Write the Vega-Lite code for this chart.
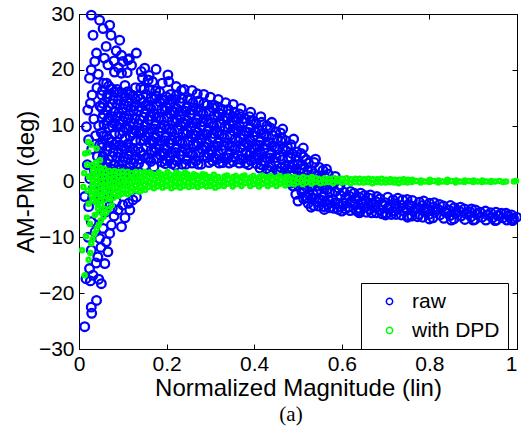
{
"$schema":"https://vega.github.io/schema/vega-lite/v6.json",
"width":438,"height":335,"autosize":"none",
"padding":{"left":79,"top":14,"right":4,"bottom":78},
"background":"white",
"config":{"view":{"stroke":"black","strokeWidth":1},"font":"Liberation Sans",
"legend":{"strokeColor":"black","fillColor":"white","padding":8,"labelFontSize":21,"labelFont":"Liberation Sans","labelColor":"black","rowPadding":7,"labelOffset":12,"symbolOffset":10,"symbolSize":40,"cornerRadius":0}},
"title":{"text":"(a)","orient":"bottom","font":"Liberation Serif","fontSize":21,"fontWeight":"normal","color":"black","offset":4,"dx":-7},
"datasets":{
"raw":[
{"x":0.028,"y":29.8},{"x":0.047,"y":28.9},{"x":0.032,"y":26.2},{"x":0.040,"y":23.0},{"x":0.028,"y":20.0},{"x":0.024,"y":18.5},{"x":0.036,"y":21.5},{"x":0.044,"y":19.2},{"x":0.020,"y":12.8},{"x":0.017,"y":9.8},{"x":0.030,"y":15.5},{"x":0.041,"y":16.8},{"x":0.026,"y":14.0},{"x":0.048,"y":13.5},{"x":0.034,"y":11.2},{"x":0.022,"y":7.5},{"x":0.045,"y":10.0},{"x":0.038,"y":8.2},{"x":0.029,"y":5.8},{"x":0.042,"y":4.5},{"x":0.019,"y":3.0},{"x":0.035,"y":2.0},{"x":0.025,"y":0.5},{"x":0.047,"y":6.5},{"x":0.013,"y":-2.7},{"x":0.022,"y":-4.5},{"x":0.031,"y":-3.0},{"x":0.043,"y":-6.3},{"x":0.028,"y":-7.2},{"x":0.037,"y":-9.0},{"x":0.047,"y":-10.2},{"x":0.028,"y":-12.3},{"x":0.043,"y":-13.5},{"x":0.024,"y":-15.6},{"x":0.016,"y":-17.4},{"x":0.032,"y":-16.8},{"x":0.026,"y":-17.8},{"x":0.028,"y":-22.5},{"x":0.040,"y":-21.3},{"x":0.029,"y":-23.6},{"x":0.013,"y":-26.0},{"x":0.050,"y":-11.8},{"x":0.039,"y":-14.6},{"x":0.045,"y":-17.5},{"x":0.021,"y":-10.0},{"x":0.033,"y":-1.2},
{"x":0.055,"y":27.4},{"x":0.070,"y":28.0},{"x":0.073,"y":26.2},{"x":0.093,"y":25.3},{"x":0.062,"y":24.2},{"x":0.080,"y":21.6},{"x":0.085,"y":23.4},{"x":0.058,"y":22.1},{"x":0.097,"y":22.6},{"x":0.066,"y":20.9},{"x":0.090,"y":20.4},{"x":0.081,"y":19.6},{"x":0.112,"y":21.8},{"x":0.097,"y":19.4},{"x":0.142,"y":19.7},{"x":0.158,"y":18.2},{"x":0.203,"y":19.1},
{"x":0.059,"y":-14.7},{"x":0.066,"y":-12.6},{"x":0.070,"y":-9.3},{"x":0.097,"y":-8.1},{"x":0.074,"y":-7.8},{"x":0.051,"y":-18.3},{"x":0.089,"y":-5.1},{"x":0.116,"y":-5.1},{"x":0.123,"y":-3.3},{"x":0.062,"y":-10.8},{"x":0.080,"y":-6.2},{"x":0.055,"y":-8.4},{"x":0.105,"y":-6.5},{"x":0.131,"y":-2.8},{"x":0.113,"y":-3.9},{"x":0.085,"y":-3.6},{"x":0.076,"y":-4.8},{"x":0.100,"y":-4.2},{"x":0.060,"y":-5.5},{"x":0.052,"y":-4.0},{"x":0.068,"y":-3.0},
{"x":0.131,"y":23.0},{"x":0.176,"y":20.1},{"x":0.110,"y":19.5},{"x":0.120,"y":20.8},{"x":0.145,"y":18.6},{"x":0.160,"y":19.0},{"x":0.190,"y":17.6},{"x":0.205,"y":17.9},{"x":0.222,"y":17.0},{"x":0.240,"y":16.5},{"x":0.258,"y":16.3},{"x":0.270,"y":15.7},{"x":0.285,"y":15.6},{"x":0.300,"y":15.1},{"x":0.318,"y":14.7},{"x":0.335,"y":14.1},{"x":0.352,"y":13.8},{"x":0.370,"y":13.1},{"x":0.392,"y":12.4},{"x":0.415,"y":11.6},{"x":0.440,"y":10.6},{"x":0.465,"y":9.4},{"x":0.490,"y":7.6},{"x":0.512,"y":6.0},{"x":0.540,"y":4.0},{"x":0.565,"y":2.2},{"x":0.585,"y":0.9},{"x":0.100,"y":21.5},{"x":0.150,"y":20.3},{"x":0.115,"y":22.0},{"x":0.168,"y":17.9},{"x":0.234,"y":16.3},
{"x":0.500,"y":-3.5},{"x":0.530,"y":-4.6},{"x":0.560,"y":-5.0},{"x":0.600,"y":-5.3},{"x":0.640,"y":-5.6},{"x":0.700,"y":-6.0},{"x":0.750,"y":-6.4},{"x":0.800,"y":-6.7},{"x":0.850,"y":-6.9},{"x":0.900,"y":-6.9},{"x":0.950,"y":-7.0},{"x":0.990,"y":-7.0},
{"x":0.056,"y":-1.3},{"x":0.051,"y":-0.8},{"x":0.057,"y":0.7},{"x":0.053,"y":2.0},{"x":0.056,"y":2.5},{"x":0.052,"y":3.8},{"x":0.055,"y":4.5},{"x":0.052,"y":6.1},{"x":0.054,"y":6.8},{"x":0.056,"y":8.2},{"x":0.051,"y":8.7},{"x":0.057,"y":10.2},{"x":0.053,"y":11.4},{"x":0.056,"y":12.0},{"x":0.052,"y":13.2},{"x":0.055,"y":14.0},{"x":0.052,"y":15.5},{"x":0.054,"y":16.3},{"x":0.056,"y":17.6},
{"x":0.063,"y":-1.3},{"x":0.069,"y":0.2},{"x":0.065,"y":1.4},{"x":0.068,"y":2.0},{"x":0.064,"y":3.2},{"x":0.067,"y":4.0},{"x":0.064,"y":5.5},{"x":0.066,"y":6.3},{"x":0.068,"y":7.6},{"x":0.063,"y":8.2},{"x":0.069,"y":9.6},{"x":0.065,"y":10.9},{"x":0.068,"y":11.4},{"x":0.064,"y":12.7},{"x":0.067,"y":13.4},{"x":0.064,"y":15.0},{"x":0.066,"y":15.7},{"x":0.068,"y":17.1},{"x":0.063,"y":17.6},
{"x":0.081,"y":-0.9},{"x":0.077,"y":0.4},{"x":0.080,"y":0.9},{"x":0.076,"y":2.2},{"x":0.079,"y":2.9},{"x":0.076,"y":4.5},{"x":0.078,"y":5.2},{"x":0.080,"y":6.6},{"x":0.075,"y":7.1},{"x":0.081,"y":8.6},{"x":0.077,"y":9.8},{"x":0.080,"y":10.4},{"x":0.076,"y":11.6},{"x":0.079,"y":12.4},{"x":0.076,"y":13.9},{"x":0.078,"y":14.7},{"x":0.080,"y":16.0},{"x":0.075,"y":16.6},
{"x":0.089,"y":0.3},{"x":0.092,"y":0.9},{"x":0.088,"y":2.1},{"x":0.091,"y":2.9},{"x":0.088,"y":4.4},{"x":0.090,"y":5.2},{"x":0.092,"y":6.5},{"x":0.087,"y":7.1},{"x":0.093,"y":8.5},{"x":0.089,"y":9.8},{"x":0.092,"y":10.3},{"x":0.088,"y":11.6},{"x":0.091,"y":12.3},{"x":0.088,"y":13.9},{"x":0.090,"y":14.6},{"x":0.092,"y":16.0},{"x":0.087,"y":16.5},
{"x":0.104,"y":0.1},{"x":0.100,"y":1.4},{"x":0.103,"y":2.1},{"x":0.100,"y":3.7},{"x":0.102,"y":4.4},{"x":0.104,"y":5.8},{"x":0.099,"y":6.3},{"x":0.105,"y":7.8},{"x":0.101,"y":9.0},{"x":0.104,"y":9.6},{"x":0.100,"y":10.8},{"x":0.103,"y":11.6},{"x":0.100,"y":13.1},{"x":0.102,"y":13.9},{"x":0.104,"y":15.2},{"x":0.099,"y":15.8},{"x":0.105,"y":17.2},
{"x":0.112,"y":1.7},{"x":0.115,"y":2.5},{"x":0.112,"y":4.0},{"x":0.114,"y":4.8},{"x":0.116,"y":6.1},{"x":0.111,"y":6.7},{"x":0.117,"y":8.1},{"x":0.113,"y":9.4},{"x":0.116,"y":9.9},{"x":0.112,"y":11.2},{"x":0.115,"y":11.9},{"x":0.112,"y":13.5},{"x":0.114,"y":14.2},{"x":0.116,"y":15.6},{"x":0.111,"y":16.1},
{"x":0.127,"y":1.7},{"x":0.124,"y":3.3},{"x":0.126,"y":4.0},{"x":0.128,"y":5.4},{"x":0.123,"y":5.9},{"x":0.129,"y":7.4},{"x":0.125,"y":8.6},{"x":0.128,"y":9.2},{"x":0.124,"y":10.4},{"x":0.127,"y":11.2},{"x":0.124,"y":12.7},{"x":0.126,"y":13.5},{"x":0.128,"y":14.8},{"x":0.123,"y":15.4},{"x":0.129,"y":16.8},
{"x":0.136,"y":3.2},{"x":0.138,"y":4.0},{"x":0.140,"y":5.3},{"x":0.135,"y":5.9},{"x":0.141,"y":7.3},{"x":0.137,"y":8.6},{"x":0.140,"y":9.1},{"x":0.136,"y":10.4},{"x":0.139,"y":11.1},{"x":0.136,"y":12.7},{"x":0.138,"y":13.4},{"x":0.140,"y":14.8},{"x":0.135,"y":15.3},{"x":0.141,"y":16.8},
{"x":0.150,"y":2.8},{"x":0.152,"y":4.2},{"x":0.147,"y":4.7},{"x":0.153,"y":6.2},{"x":0.149,"y":7.4},{"x":0.152,"y":8.0},{"x":0.148,"y":9.2},{"x":0.151,"y":10.0},{"x":0.148,"y":11.5},{"x":0.150,"y":12.3},{"x":0.152,"y":13.6},{"x":0.147,"y":14.2},{"x":0.153,"y":15.6},{"x":0.149,"y":16.6},
{"x":0.164,"y":3.6},{"x":0.159,"y":4.2},{"x":0.165,"y":5.6},{"x":0.161,"y":6.9},{"x":0.164,"y":7.4},{"x":0.160,"y":8.7},{"x":0.163,"y":9.4},{"x":0.160,"y":11.0},{"x":0.162,"y":11.7},{"x":0.164,"y":13.1},{"x":0.159,"y":13.6},{"x":0.165,"y":15.1},{"x":0.161,"y":16.3},
{"x":0.171,"y":2.6},{"x":0.177,"y":4.1},{"x":0.173,"y":5.3},{"x":0.176,"y":5.9},{"x":0.172,"y":7.1},{"x":0.175,"y":7.9},{"x":0.172,"y":9.4},{"x":0.174,"y":10.2},{"x":0.176,"y":11.5},{"x":0.171,"y":12.1},{"x":0.177,"y":13.5},{"x":0.173,"y":14.8},{"x":0.176,"y":15.3},{"x":0.175,"y":16.2},
{"x":0.189,"y":3.5},{"x":0.185,"y":4.8},{"x":0.188,"y":5.3},{"x":0.184,"y":6.6},{"x":0.187,"y":7.3},{"x":0.184,"y":8.9},{"x":0.186,"y":9.6},{"x":0.188,"y":11.0},{"x":0.183,"y":11.5},{"x":0.189,"y":13.0},{"x":0.185,"y":14.2},{"x":0.188,"y":14.8},{"x":0.184,"y":16.0},
{"x":0.197,"y":3.2},{"x":0.200,"y":3.8},{"x":0.196,"y":5.0},{"x":0.199,"y":5.8},{"x":0.196,"y":7.3},{"x":0.198,"y":8.1},{"x":0.200,"y":9.4},{"x":0.195,"y":10.0},{"x":0.201,"y":11.4},{"x":0.197,"y":12.7},{"x":0.200,"y":13.2},{"x":0.196,"y":14.5},{"x":0.199,"y":15.2},
{"x":0.212,"y":3.2},{"x":0.208,"y":4.5},{"x":0.211,"y":5.2},{"x":0.208,"y":6.8},{"x":0.210,"y":7.5},{"x":0.212,"y":8.9},{"x":0.207,"y":9.4},{"x":0.213,"y":10.9},{"x":0.209,"y":12.1},{"x":0.212,"y":12.7},{"x":0.208,"y":13.9},{"x":0.211,"y":14.7},{"x":0.209,"y":15.6},
{"x":0.220,"y":2.9},{"x":0.223,"y":3.7},{"x":0.220,"y":5.2},{"x":0.222,"y":6.0},{"x":0.224,"y":7.3},{"x":0.219,"y":7.9},{"x":0.225,"y":9.3},{"x":0.221,"y":10.6},{"x":0.224,"y":11.1},{"x":0.220,"y":12.4},{"x":0.223,"y":13.1},{"x":0.220,"y":14.7},{"x":0.222,"y":15.4},
{"x":0.235,"y":3.1},{"x":0.232,"y":4.7},{"x":0.234,"y":5.4},{"x":0.236,"y":6.8},{"x":0.231,"y":7.3},{"x":0.237,"y":8.8},{"x":0.233,"y":10.0},{"x":0.236,"y":10.6},{"x":0.232,"y":11.8},{"x":0.235,"y":12.6},{"x":0.232,"y":14.1},{"x":0.234,"y":14.9},
{"x":0.244,"y":3.1},{"x":0.246,"y":3.9},{"x":0.248,"y":5.2},{"x":0.243,"y":5.8},{"x":0.249,"y":7.2},{"x":0.245,"y":8.5},{"x":0.248,"y":9.0},{"x":0.244,"y":10.3},{"x":0.247,"y":11.0},{"x":0.244,"y":12.6},{"x":0.246,"y":13.3},{"x":0.248,"y":14.7},
{"x":0.258,"y":3.3},{"x":0.260,"y":4.7},{"x":0.255,"y":5.2},{"x":0.261,"y":6.7},{"x":0.257,"y":7.9},{"x":0.260,"y":8.5},{"x":0.256,"y":9.7},{"x":0.259,"y":10.5},{"x":0.256,"y":12.0},{"x":0.258,"y":12.8},{"x":0.260,"y":14.1},{"x":0.255,"y":14.7},
{"x":0.272,"y":3.1},{"x":0.267,"y":3.7},{"x":0.273,"y":5.1},{"x":0.269,"y":6.4},{"x":0.272,"y":6.9},{"x":0.268,"y":8.2},{"x":0.271,"y":8.9},{"x":0.268,"y":10.5},{"x":0.270,"y":11.2},{"x":0.272,"y":12.6},{"x":0.267,"y":13.1},{"x":0.273,"y":14.4},
{"x":0.279,"y":3.1},{"x":0.285,"y":4.6},{"x":0.281,"y":5.8},{"x":0.284,"y":6.4},{"x":0.280,"y":7.6},{"x":0.283,"y":8.4},{"x":0.280,"y":9.9},{"x":0.282,"y":10.7},{"x":0.284,"y":12.0},{"x":0.279,"y":12.6},{"x":0.285,"y":14.0},
{"x":0.297,"y":3.4},{"x":0.293,"y":4.3},{"x":0.296,"y":5.0},{"x":0.292,"y":6.1},{"x":0.295,"y":6.8},{"x":0.292,"y":8.4},{"x":0.294,"y":9.1},{"x":0.296,"y":10.5},{"x":0.291,"y":11.0},{"x":0.297,"y":12.5},{"x":0.293,"y":13.7},
{"x":0.305,"y":3.7},{"x":0.308,"y":4.3},{"x":0.304,"y":5.5},{"x":0.307,"y":6.3},{"x":0.304,"y":7.8},{"x":0.306,"y":8.6},{"x":0.308,"y":9.9},{"x":0.303,"y":10.5},{"x":0.309,"y":11.9},{"x":0.305,"y":13.2},{"x":0.308,"y":13.7},
{"x":0.320,"y":3.3},{"x":0.316,"y":4.0},{"x":0.319,"y":4.9},{"x":0.316,"y":6.3},{"x":0.318,"y":7.0},{"x":0.320,"y":8.4},{"x":0.315,"y":8.9},{"x":0.321,"y":10.4},{"x":0.317,"y":11.6},{"x":0.320,"y":12.2},{"x":0.316,"y":13.4},
{"x":0.328,"y":3.4},{"x":0.331,"y":4.2},{"x":0.328,"y":5.7},{"x":0.330,"y":6.5},{"x":0.332,"y":7.8},{"x":0.327,"y":8.4},{"x":0.333,"y":9.8},{"x":0.329,"y":11.1},{"x":0.332,"y":11.6},{"x":0.328,"y":12.9},
{"x":0.343,"y":3.3},{"x":0.340,"y":4.2},{"x":0.342,"y":4.9},{"x":0.344,"y":6.3},{"x":0.339,"y":6.8},{"x":0.345,"y":8.3},{"x":0.341,"y":9.5},{"x":0.344,"y":10.1},{"x":0.340,"y":11.3},{"x":0.343,"y":12.1},{"x":0.341,"y":12.9},
{"x":0.352,"y":3.6},{"x":0.354,"y":4.4},{"x":0.356,"y":5.7},{"x":0.351,"y":6.3},{"x":0.357,"y":7.7},{"x":0.353,"y":9.0},{"x":0.356,"y":9.5},{"x":0.352,"y":10.8},{"x":0.355,"y":11.5},{"x":0.355,"y":12.4},
{"x":0.366,"y":3.3},{"x":0.368,"y":4.0},{"x":0.363,"y":4.7},{"x":0.369,"y":6.0},{"x":0.365,"y":7.2},{"x":0.368,"y":7.8},{"x":0.364,"y":9.0},{"x":0.367,"y":9.8},{"x":0.364,"y":11.3},{"x":0.366,"y":12.1},
{"x":0.380,"y":3.3},{"x":0.375,"y":4.1},{"x":0.381,"y":5.2},{"x":0.377,"y":6.5},{"x":0.380,"y":7.0},{"x":0.376,"y":8.3},{"x":0.379,"y":9.0},{"x":0.376,"y":10.6},{"x":0.378,"y":11.3},
{"x":0.387,"y":3.0},{"x":0.393,"y":3.7},{"x":0.389,"y":4.7},{"x":0.392,"y":5.3},{"x":0.388,"y":6.5},{"x":0.391,"y":7.3},{"x":0.388,"y":8.8},{"x":0.390,"y":9.6},{"x":0.392,"y":10.9},{"x":0.389,"y":11.6},
{"x":0.405,"y":3.2},{"x":0.401,"y":4.1},{"x":0.404,"y":4.8},{"x":0.400,"y":5.9},{"x":0.403,"y":6.6},{"x":0.400,"y":8.2},{"x":0.402,"y":8.9},{"x":0.404,"y":10.3},{"x":0.399,"y":10.8},
{"x":0.413,"y":2.4},{"x":0.416,"y":3.0},{"x":0.412,"y":4.2},{"x":0.415,"y":5.0},{"x":0.412,"y":6.5},{"x":0.414,"y":7.3},{"x":0.416,"y":8.6},{"x":0.411,"y":9.2},{"x":0.417,"y":10.6},
{"x":0.428,"y":2.3},{"x":0.424,"y":3.6},{"x":0.427,"y":4.3},{"x":0.424,"y":5.9},{"x":0.426,"y":6.6},{"x":0.428,"y":8.0},{"x":0.423,"y":8.5},{"x":0.429,"y":10.0},
{"x":0.436,"y":1.9},{"x":0.439,"y":2.7},{"x":0.436,"y":4.2},{"x":0.438,"y":5.0},{"x":0.440,"y":6.3},{"x":0.435,"y":6.9},{"x":0.441,"y":8.3},{"x":0.437,"y":9.6},
{"x":0.451,"y":2.0},{"x":0.448,"y":3.6},{"x":0.450,"y":4.3},{"x":0.452,"y":5.7},{"x":0.447,"y":6.2},{"x":0.453,"y":7.7},{"x":0.449,"y":8.9},
{"x":0.460,"y":1.8},{"x":0.462,"y":2.5},{"x":0.464,"y":3.9},{"x":0.459,"y":4.5},{"x":0.465,"y":5.9},{"x":0.461,"y":7.2},{"x":0.464,"y":7.7},{"x":0.460,"y":8.7},
{"x":0.474,"y":0.9},{"x":0.476,"y":2.3},{"x":0.471,"y":2.8},{"x":0.477,"y":4.3},{"x":0.473,"y":5.5},{"x":0.476,"y":6.1},{"x":0.472,"y":7.3},
{"x":0.488,"y":-0.8},{"x":0.483,"y":-0.3},{"x":0.489,"y":1.2},{"x":0.485,"y":2.5},{"x":0.488,"y":3.0},{"x":0.484,"y":4.3},{"x":0.487,"y":5.0},{"x":0.484,"y":6.6},
{"x":0.495,"y":-2.3},{"x":0.501,"y":-0.8},{"x":0.497,"y":0.4},{"x":0.500,"y":1.0},{"x":0.496,"y":2.2},{"x":0.499,"y":3.0},{"x":0.496,"y":4.5},{"x":0.498,"y":5.3},
{"x":0.513,"y":-3.1},{"x":0.509,"y":-1.9},{"x":0.512,"y":-1.3},{"x":0.508,"y":-0.1},{"x":0.511,"y":0.7},{"x":0.508,"y":2.3},{"x":0.510,"y":3.0},{"x":0.512,"y":4.4},{"x":0.507,"y":5.0},
{"x":0.521,"y":-2.9},{"x":0.524,"y":-2.3},{"x":0.520,"y":-1.1},{"x":0.523,"y":-0.3},{"x":0.520,"y":1.2},{"x":0.522,"y":2.0},{"x":0.524,"y":3.3},{"x":0.519,"y":3.9},{"x":0.523,"y":-3.9},
{"x":0.536,"y":-4.3},{"x":0.532,"y":-3.0},{"x":0.535,"y":-2.3},{"x":0.532,"y":-0.8},{"x":0.534,"y":0.0},{"x":0.536,"y":1.4},{"x":0.531,"y":1.9},{"x":0.537,"y":3.4},
{"x":0.544,"y":-3.6},{"x":0.547,"y":-3.1},{"x":0.544,"y":-1.6},{"x":0.546,"y":-0.8},{"x":0.548,"y":0.5},{"x":0.543,"y":1.1},{"x":0.549,"y":2.5},{"x":0.547,"y":-4.4},
{"x":0.559,"y":-4.5},{"x":0.556,"y":-3.4},{"x":0.558,"y":-2.6},{"x":0.560,"y":-1.3},{"x":0.555,"y":-0.7},{"x":0.561,"y":0.8},{"x":0.557,"y":2.0},
{"x":0.568,"y":-4.1},{"x":0.570,"y":-3.3},{"x":0.572,"y":-2.0},{"x":0.567,"y":-1.4},{"x":0.573,"y":0.0},{"x":0.569,"y":1.3},{"x":0.571,"y":-4.7},
{"x":0.582,"y":-4.8},{"x":0.584,"y":-3.8},{"x":0.579,"y":-3.2},{"x":0.585,"y":-1.8},{"x":0.581,"y":-0.5},{"x":0.584,"y":0.1},
{"x":0.596,"y":-4.5},{"x":0.591,"y":-3.9},{"x":0.597,"y":-2.5},{"x":0.593,"y":-1.2},{"x":0.596,"y":-0.7},{"x":0.592,"y":-5.0},
{"x":0.608,"y":-4.9},{"x":0.603,"y":-3.9},{"x":0.609,"y":-2.9},{"x":0.605,"y":-1.9},
{"x":0.615,"y":-4.6},{"x":0.621,"y":-3.6},{"x":0.617,"y":-2.6},{"x":0.620,"y":-1.8},{"x":0.619,"y":-5.2},
{"x":0.633,"y":-5.2},{"x":0.629,"y":-4.1},{"x":0.632,"y":-3.1},{"x":0.628,"y":-2.1},
{"x":0.641,"y":-4.8},{"x":0.644,"y":-3.8},{"x":0.640,"y":-2.8},{"x":0.643,"y":-2.1},{"x":0.642,"y":-5.3},
{"x":0.656,"y":-5.5},{"x":0.652,"y":-4.5},{"x":0.655,"y":-3.5},{"x":0.652,"y":-2.5},
{"x":0.664,"y":-5.0},{"x":0.667,"y":-4.0},{"x":0.663,"y":-3.0},{"x":0.668,"y":-5.6},{"x":0.665,"y":-2.4},
{"x":0.679,"y":-5.6},{"x":0.676,"y":-4.6},{"x":0.678,"y":-3.6},{"x":0.680,"y":-2.7},
{"x":0.688,"y":-5.1},{"x":0.691,"y":-4.1},{"x":0.687,"y":-3.1},{"x":0.692,"y":-5.8},
{"x":0.702,"y":-5.7},{"x":0.704,"y":-4.8},{"x":0.699,"y":-3.8},{"x":0.705,"y":-2.8},
{"x":0.716,"y":-5.3},{"x":0.711,"y":-4.3},{"x":0.717,"y":-3.3},{"x":0.713,"y":-5.9},
{"x":0.724,"y":-5.9},{"x":0.727,"y":-5.0},{"x":0.723,"y":-4.0},{"x":0.728,"y":-3.0},
{"x":0.736,"y":-6.0},{"x":0.740,"y":-5.2},{"x":0.737,"y":-4.3},{"x":0.739,"y":-3.3},
{"x":0.751,"y":-6.1},{"x":0.748,"y":-5.1},{"x":0.752,"y":-4.1},{"x":0.749,"y":-3.2},
{"x":0.760,"y":-6.2},{"x":0.763,"y":-5.3},{"x":0.759,"y":-4.4},{"x":0.761,"y":-3.4},
{"x":0.776,"y":-5.9},{"x":0.772,"y":-4.8},{"x":0.777,"y":-3.7},{"x":0.773,"y":-6.3},
{"x":0.785,"y":-6.4},{"x":0.788,"y":-5.3},{"x":0.784,"y":-4.3},{"x":0.787,"y":-3.5},
{"x":0.799,"y":-5.9},{"x":0.796,"y":-4.9},{"x":0.800,"y":-3.9},
{"x":0.808,"y":-6.5},{"x":0.812,"y":-5.5},{"x":0.809,"y":-4.6},{"x":0.811,"y":-3.8},
{"x":0.824,"y":-6.0},{"x":0.820,"y":-5.0},{"x":0.823,"y":-4.1},
{"x":0.833,"y":-6.6},{"x":0.836,"y":-5.5},{"x":0.832,"y":-4.4},
{"x":0.847,"y":-6.1},{"x":0.844,"y":-5.1},{"x":0.848,"y":-4.3},
{"x":0.856,"y":-6.7},{"x":0.860,"y":-5.7},{"x":0.857,"y":-4.7},
{"x":0.872,"y":-6.2},{"x":0.868,"y":-5.3},{"x":0.871,"y":-4.6},
{"x":0.881,"y":-6.8},{"x":0.884,"y":-5.8},{"x":0.880,"y":-4.9},
{"x":0.895,"y":-6.3},{"x":0.892,"y":-5.4},{"x":0.896,"y":-4.9},
{"x":0.904,"y":-6.8},{"x":0.908,"y":-5.9},{"x":0.905,"y":-5.1},
{"x":0.920,"y":-6.4},{"x":0.916,"y":-5.5},
{"x":0.929,"y":-6.9},{"x":0.932,"y":-6.0},{"x":0.928,"y":-5.3},
{"x":0.944,"y":-6.5},{"x":0.940,"y":-5.6},
{"x":0.953,"y":-6.9},{"x":0.956,"y":-6.1},{"x":0.952,"y":-5.5},
{"x":0.968,"y":-6.5},{"x":0.964,"y":-5.7},
{"x":0.977,"y":-6.9},{"x":0.980,"y":-6.1},{"x":0.975,"y":-5.7},
{"x":0.992,"y":-6.6},{"x":0.988,"y":-6.0},{"x":0.989,"y":-6.9},{"x":0.999,"y":-6.4}
],
"dpd":[
{"x":0.022,"y":-4.0},{"x":0.020,"y":-1.6},{"x":0.023,"y":0.8},{"x":0.019,"y":3.0},{"x":0.021,"y":5.2},
{"x":0.031,"y":-3.4},{"x":0.029,"y":-2.5},{"x":0.032,"y":-1.6},{"x":0.030,"y":-0.7},{"x":0.031,"y":0.2},{"x":0.029,"y":1.1},{"x":0.032,"y":2.0},{"x":0.030,"y":2.9},
{"x":0.040,"y":-3.8},{"x":0.041,"y":-2.9},{"x":0.039,"y":-2.0},{"x":0.041,"y":-1.1},{"x":0.040,"y":-0.2},{"x":0.039,"y":0.7},{"x":0.041,"y":1.6},{"x":0.040,"y":2.5},{"x":0.039,"y":3.4},
{"x":0.007,"y":-12.3},{"x":0.013,"y":-16.8},{"x":0.016,"y":-9.8},{"x":0.022,"y":-14.0},{"x":0.026,"y":-12.8},{"x":0.010,"y":-1.0},{"x":0.014,"y":5.0},{"x":0.012,"y":1.5},{"x":0.021,"y":7.1},{"x":0.028,"y":6.6},{"x":0.040,"y":5.9},{"x":0.048,"y":3.8},{"x":0.018,"y":-6.5},{"x":0.025,"y":-7.6},
{"x":0.075,"y":-4.3},{"x":0.068,"y":-5.0},{"x":0.062,"y":-5.6},{"x":0.056,"y":-6.3},{"x":0.050,"y":-7.0},{"x":0.045,"y":-7.8},{"x":0.040,"y":-8.6},{"x":0.035,"y":-9.4},{"x":0.031,"y":-10.3},{"x":0.028,"y":-11.1},{"x":0.058,"y":-4.9},{"x":0.047,"y":-5.5},{"x":0.036,"y":-6.0},{"x":0.043,"y":-4.8},
{"x":0.051,"y":-4.2},{"x":0.049,"y":-3.4},{"x":0.052,"y":-2.5},{"x":0.048,"y":-1.7},{"x":0.050,"y":-0.9},{"x":0.051,"y":0.0},{"x":0.049,"y":0.8},{"x":0.052,"y":1.7},{"x":0.048,"y":2.5},
{"x":0.059,"y":-3.3},{"x":0.061,"y":-2.5},{"x":0.058,"y":-1.6},{"x":0.062,"y":-0.8},{"x":0.060,"y":0.1},{"x":0.059,"y":0.9},{"x":0.061,"y":1.6},{"x":0.058,"y":2.3},
{"x":0.071,"y":-3.2},{"x":0.069,"y":-2.3},{"x":0.072,"y":-1.5},{"x":0.068,"y":-0.6},{"x":0.070,"y":0.2},{"x":0.071,"y":1.1},{"x":0.069,"y":1.9},
{"x":0.079,"y":-2.9},{"x":0.081,"y":-2.1},{"x":0.078,"y":-1.2},{"x":0.082,"y":-0.4},{"x":0.080,"y":0.5},{"x":0.079,"y":1.3},{"x":0.081,"y":1.9},
{"x":0.091,"y":-2.6},{"x":0.089,"y":-1.7},{"x":0.092,"y":-0.8},{"x":0.088,"y":0.0},{"x":0.090,"y":0.9},{"x":0.091,"y":1.7},
{"x":0.099,"y":-2.2},{"x":0.101,"y":-1.4},{"x":0.098,"y":-0.5},{"x":0.102,"y":0.3},{"x":0.100,"y":1.1},{"x":0.099,"y":1.8},
{"x":0.111,"y":-2.3},{"x":0.109,"y":-1.5},{"x":0.112,"y":-0.6},{"x":0.108,"y":0.2},{"x":0.110,"y":1.0},{"x":0.111,"y":1.7},
{"x":0.119,"y":-1.9},{"x":0.121,"y":-1.0},{"x":0.118,"y":-0.2},{"x":0.122,"y":0.7},{"x":0.120,"y":1.5},
{"x":0.131,"y":-1.6},{"x":0.129,"y":-0.7},{"x":0.132,"y":0.1},{"x":0.128,"y":1.0},{"x":0.130,"y":1.7},
{"x":0.139,"y":-1.8},{"x":0.141,"y":-0.9},{"x":0.138,"y":-0.1},{"x":0.142,"y":0.8},{"x":0.140,"y":1.6},
{"x":0.151,"y":-1.5},{"x":0.149,"y":-0.6},{"x":0.152,"y":0.3},{"x":0.148,"y":1.1},{"x":0.150,"y":1.7},
{"x":0.159,"y":-1.0},{"x":0.161,"y":-0.1},{"x":0.158,"y":0.8},{"x":0.162,"y":1.6},
{"x":0.171,"y":-1.2},{"x":0.169,"y":-0.4},{"x":0.172,"y":0.4},{"x":0.168,"y":1.3},
{"x":0.179,"y":-0.9},{"x":0.181,"y":0.0},{"x":0.178,"y":0.9},{"x":0.182,"y":1.6},
{"x":0.191,"y":-1.1},{"x":0.189,"y":-0.3},{"x":0.192,"y":0.5},{"x":0.188,"y":1.3},
{"x":0.199,"y":-0.8},{"x":0.201,"y":0.1},{"x":0.198,"y":0.9},{"x":0.202,"y":1.7},
{"x":0.211,"y":-1.2},{"x":0.209,"y":-0.4},{"x":0.212,"y":0.5},{"x":0.208,"y":1.2},
{"x":0.219,"y":-0.9},{"x":0.221,"y":0.0},{"x":0.218,"y":0.8},{"x":0.222,"y":1.6},
{"x":0.231,"y":-1.1},{"x":0.229,"y":-0.2},{"x":0.232,"y":0.6},{"x":0.228,"y":1.4},
{"x":0.239,"y":-0.8},{"x":0.241,"y":0.1},{"x":0.238,"y":0.9},{"x":0.242,"y":1.6},
{"x":0.251,"y":-1.0},{"x":0.249,"y":-0.2},{"x":0.252,"y":0.6},{"x":0.248,"y":1.3},
{"x":0.259,"y":-0.8},{"x":0.261,"y":0.0},{"x":0.258,"y":0.7},{"x":0.262,"y":1.3},
{"x":0.271,"y":-1.0},{"x":0.269,"y":-0.3},{"x":0.272,"y":0.4},{"x":0.268,"y":1.1},
{"x":0.279,"y":-0.7},{"x":0.281,"y":0.1},{"x":0.278,"y":0.8},{"x":0.282,"y":1.3},
{"x":0.291,"y":-0.9},{"x":0.289,"y":-0.2},{"x":0.292,"y":0.5},{"x":0.288,"y":1.2},
{"x":0.299,"y":-0.8},{"x":0.301,"y":0.0},{"x":0.298,"y":0.8},
{"x":0.311,"y":-1.1},{"x":0.309,"y":-0.4},{"x":0.312,"y":0.4},{"x":0.308,"y":1.2},
{"x":0.319,"y":-0.8},{"x":0.321,"y":0.0},{"x":0.318,"y":0.8},
{"x":0.331,"y":-0.8},{"x":0.329,"y":0.0},{"x":0.332,"y":0.9},
{"x":0.339,"y":-0.4},{"x":0.341,"y":0.4},{"x":0.338,"y":1.1},
{"x":0.351,"y":-0.9},{"x":0.349,"y":-0.1},{"x":0.352,"y":0.8},
{"x":0.359,"y":-0.5},{"x":0.361,"y":0.3},{"x":0.358,"y":1.0},
{"x":0.371,"y":-0.8},{"x":0.369,"y":0.0},{"x":0.372,"y":0.9},
{"x":0.379,"y":-0.3},{"x":0.381,"y":0.5},{"x":0.378,"y":1.1},
{"x":0.391,"y":-0.8},{"x":0.389,"y":-0.1},{"x":0.392,"y":0.7},
{"x":0.399,"y":-0.5},{"x":0.401,"y":0.3},{"x":0.398,"y":1.0},
{"x":0.411,"y":-0.9},{"x":0.409,"y":0.0},{"x":0.412,"y":0.8},
{"x":0.419,"y":-0.4},{"x":0.421,"y":0.4},{"x":0.418,"y":1.1},
{"x":0.431,"y":-0.8},{"x":0.429,"y":0.0},{"x":0.432,"y":0.8},
{"x":0.439,"y":-0.5},{"x":0.441,"y":0.3},{"x":0.438,"y":1.0},
{"x":0.451,"y":-0.8},{"x":0.449,"y":-0.1},{"x":0.452,"y":0.7},
{"x":0.459,"y":-0.4},{"x":0.461,"y":0.4},{"x":0.458,"y":1.0},
{"x":0.471,"y":-0.7},{"x":0.469,"y":0.0},{"x":0.472,"y":0.8},
{"x":0.479,"y":-0.4},{"x":0.481,"y":0.3},{"x":0.478,"y":0.9},
{"x":0.491,"y":-0.5},{"x":0.489,"y":0.2},{"x":0.492,"y":0.8},
{"x":0.499,"y":-0.2},{"x":0.501,"y":0.6},
{"x":0.511,"y":-0.5},{"x":0.509,"y":0.2},{"x":0.512,"y":0.8},
{"x":0.519,"y":-0.2},{"x":0.521,"y":0.6},
{"x":0.531,"y":-0.4},{"x":0.529,"y":0.3},{"x":0.532,"y":0.8},
{"x":0.539,"y":-0.1},{"x":0.541,"y":0.6},
{"x":0.551,"y":-0.3},{"x":0.549,"y":0.4},
{"x":0.560,"y":-0.2},{"x":0.561,"y":0.6},{"x":0.570,"y":-0.1},{"x":0.571,"y":0.5},{"x":0.580,"y":-0.3},{"x":0.581,"y":0.6},{"x":0.590,"y":0.0},{"x":0.591,"y":0.5},
{"x":0.600,"y":-0.2},{"x":0.601,"y":0.5},{"x":0.610,"y":-0.1},{"x":0.611,"y":0.6},{"x":0.620,"y":-0.3},{"x":0.621,"y":0.4},{"x":0.630,"y":-0.1},{"x":0.631,"y":0.5},{"x":0.640,"y":-0.2},{"x":0.641,"y":0.5},
{"x":0.650,"y":-0.2},{"x":0.651,"y":0.4},{"x":0.660,"y":-0.1},{"x":0.661,"y":0.5},{"x":0.670,"y":-0.3},{"x":0.671,"y":0.4},{"x":0.680,"y":-0.1},{"x":0.681,"y":0.4},{"x":0.690,"y":-0.2},{"x":0.691,"y":0.5},
{"x":0.700,"y":-0.2},{"x":0.701,"y":0.3},{"x":0.710,"y":-0.1},{"x":0.711,"y":0.4},{"x":0.720,"y":-0.2},{"x":0.721,"y":0.3},{"x":0.730,"y":-0.3},{"x":0.731,"y":0.3},{"x":0.740,"y":-0.1},{"x":0.741,"y":0.4},{"x":0.750,"y":-0.2},{"x":0.751,"y":0.3},
{"x":0.760,"y":-0.1},{"x":0.761,"y":0.3},{"x":0.770,"y":0.1},{"x":0.780,"y":-0.2},{"x":0.781,"y":0.2},{"x":0.790,"y":0.0},{"x":0.800,"y":-0.1},{"x":0.801,"y":0.3},{"x":0.810,"y":0.1},{"x":0.820,"y":-0.2},{"x":0.821,"y":0.2},{"x":0.830,"y":0.0},
{"x":0.840,"y":-0.1},{"x":0.841,"y":0.3},{"x":0.850,"y":0.1},{"x":0.860,"y":-0.2},{"x":0.861,"y":0.2},{"x":0.870,"y":0.0},{"x":0.880,"y":-0.1},{"x":0.881,"y":0.2},{"x":0.890,"y":0.1},{"x":0.900,"y":-0.1},{"x":0.901,"y":0.2},{"x":0.910,"y":0.0},
{"x":0.920,"y":-0.1},{"x":0.921,"y":0.2},{"x":0.930,"y":0.0},{"x":0.940,"y":-0.1},{"x":0.941,"y":0.1},{"x":0.950,"y":0.0},{"x":0.960,"y":0.1},{"x":0.968,"y":-0.1},{"x":0.975,"y":0.0},
{"x":0.993,"y":0.0},{"x":0.998,"y":0.1}
]},
"layer":[
{"data":{"name":"raw"},
"mark":{"type":"point","shape":"circle","filled":false,"size":75,"strokeWidth":2.3,"opacity":1},
"encoding":{
"x":{"field":"x","type":"quantitative","scale":{"domain":[0,1],"nice":false,"zero":false},
"axis":{"orient":"bottom","values":[0,0.2,0.4,0.6,0.8,1],"format":"~g","tickSize":-5,"labelPadding":9,"labelFontSize":21,"labelFont":"Liberation Sans","labelColor":"black","labelFlush":false,"labelOverlap":false,"labelAlign":{"expr":"datum.value == 1 ? 'right' : 'center'"},"tickColor":"black","domainColor":"black","grid":false,"title":"Normalized Magnitude (lin)","titleFontSize":24,"titleFont":"Liberation Sans","titleFontWeight":"normal","titleColor":"black","titlePadding":2}},
"y":{"field":"y","type":"quantitative","scale":{"domain":[-30,30],"nice":false,"zero":false},
"axis":{"orient":"left","values":[-30,-20,-10,0,10,20,30],"format":"d","tickSize":-5,"labelPadding":10,"labelFontSize":21,"labelFont":"Liberation Sans","labelColor":"black","labelFlush":false,"labelOverlap":false,"tickColor":"black","domainColor":"black","grid":false,"title":"AM-PM (deg)","titleFontSize":24,"titleFont":"Liberation Sans","titleFontWeight":"normal","titleColor":"black","titlePadding":0}},
"color":{"datum":"raw","type":"nominal","scale":{"domain":["raw","with DPD"],"range":["#0000ff","#00ff00"]},
"legend":{"title":null,"orient":"none","legendX":282,"legendY":269,"symbolType":"circle",
"encode":{"symbols":{"fill":{"value":{"expr":"datum.value === 'raw' ? 'transparent' : '#00ff00'"}},"size":{"value":{"expr":"datum.value === 'raw' ? 40 : 12"}},"strokeWidth":{"value":{"expr":"datum.value === 'raw' ? 1.5 : 0"}}}}}}
}},
{"data":{"name":"dpd"},
"mark":{"type":"point","shape":"circle","filled":false,"size":7,"strokeWidth":3.8,"opacity":1},
"encoding":{
"x":{"field":"x","type":"quantitative","axis":{"orient":"top","values":[0,0.2,0.4,0.6,0.8,1],"labels":false,"tickSize":-5,"tickColor":"black","domainColor":"black","grid":false,"title":null}},
"y":{"field":"y","type":"quantitative","axis":{"orient":"right","values":[-30,-20,-10,0,10,20,30],"labels":false,"tickSize":-5,"tickColor":"black","domainColor":"black","grid":false,"title":null}},
"color":{"datum":"with DPD","type":"nominal",
"legend":{"title":null,"orient":"none","legendX":282,"legendY":269,"symbolType":"circle",
"encode":{"symbols":{"fill":{"value":{"expr":"datum.value === 'raw' ? 'transparent' : '#00ff00'"}},"size":{"value":{"expr":"datum.value === 'raw' ? 40 : 12"}},"strokeWidth":{"value":{"expr":"datum.value === 'raw' ? 1.5 : 0"}}}}}}
}}
],
"resolve":{"axis":{"x":"independent","y":"independent"}}
}
